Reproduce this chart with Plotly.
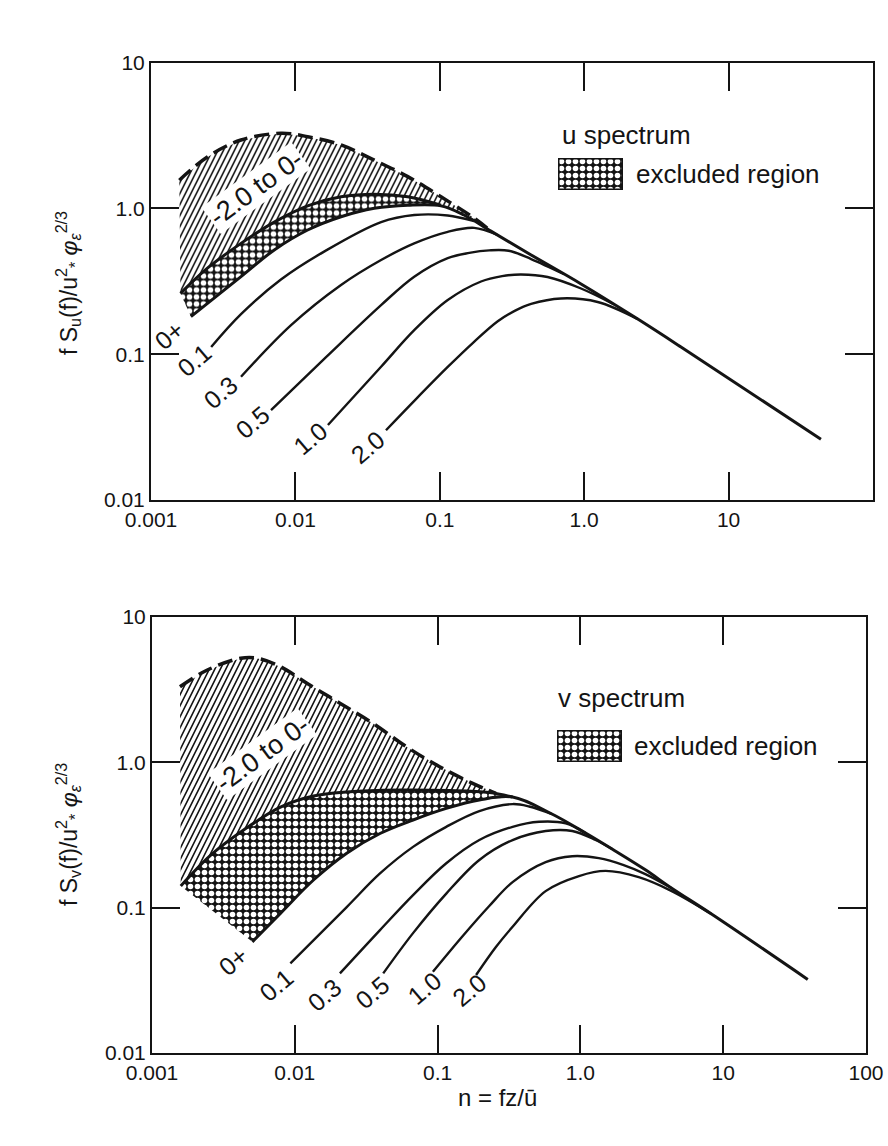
import numpy as np
import plotly.graph_objects as go

# ---------------- data: u spectrum (top panel) ----------------
# n = f z / U ; value = f S(f) / (u*^2 phi_eps^(2/3))
u_dash_n = [0.00157, 0.00247, 0.0042, 0.00794, 0.01216, 0.0207, 0.0352, 0.0600, 0.1019, 0.173, 0.226]
u_dash_v = [1.56, 2.26, 2.94, 3.27, 3.10, 2.72, 2.14, 1.65, 1.20, 0.857, 0.698]

u_lim_n = [0.00160, 0.00247, 0.0042, 0.00714, 0.01216, 0.0207, 0.0352, 0.0600, 0.1019]   # 0- limit
u_lim_v = [0.261, 0.390, 0.575, 0.805, 1.04, 1.20, 1.25, 1.20, 1.05]

u_0p_n = [0.00189, 0.0042, 0.00714, 0.01216, 0.0207, 0.0352, 0.0600, 0.1019, 0.147, 0.226, 0.429, 0.951, 2.35, 4.68, 43.6]
u_0p_v = [0.181, 0.340, 0.518, 0.710, 0.875, 1.00, 1.05, 1.04, 0.900, 0.698, 0.479, 0.303, 0.174, 0.112, 0.0261]

u_01_n = [0.00261, 0.0042, 0.00794, 0.0158, 0.0392, 0.0665, 0.1135, 0.173]
u_01_v = [0.112, 0.188, 0.325, 0.505, 0.805, 0.900, 0.893, 0.817]
u_03_n = [0.0042, 0.00933, 0.0207, 0.0392, 0.0665, 0.1135, 0.173, 0.249]
u_03_v = [0.070, 0.158, 0.298, 0.442, 0.575, 0.690, 0.735, 0.659]
u_05_n = [0.00678, 0.0163, 0.0392, 0.0665, 0.1135, 0.160, 0.220, 0.300, 0.429, 0.728]
u_05_v = [0.0414, 0.0955, 0.217, 0.340, 0.456, 0.495, 0.515, 0.512, 0.449, 0.353]
u_10_n = [0.0168, 0.0392, 0.0665, 0.1135, 0.193, 0.270, 0.365, 0.558, 0.951, 1.61]
u_10_v = [0.0327, 0.082, 0.146, 0.235, 0.315, 0.343, 0.352, 0.338, 0.282, 0.219]
u_20_n = [0.0424, 0.0684, 0.1135, 0.172, 0.252, 0.330, 0.429, 0.690, 1.24, 2.35]
u_20_v = [0.0301, 0.0492, 0.0817, 0.121, 0.168, 0.198, 0.221, 0.241, 0.228, 0.174]

# ---------------- data: v spectrum (bottom panel) ----------------
v_dash_n = [0.00157, 0.00244, 0.00417, 0.00546, 0.00793, 0.01216, 0.0207, 0.0354, 0.0605, 0.1033, 0.176, 0.256]
v_dash_v = [3.31, 4.32, 5.20, 5.20, 4.55, 3.50, 2.55, 1.85, 1.28, 0.933, 0.717, 0.612]

v_lim_n = [0.00159, 0.00258, 0.00438, 0.00793, 0.01352, 0.0231, 0.0543, 0.121, 0.230, 0.335]
v_lim_v = [0.141, 0.230, 0.342, 0.492, 0.586, 0.625, 0.645, 0.640, 0.620, 0.577]

v_0p_n = [0.00504, 0.00793, 0.01352, 0.0231, 0.0395, 0.0673, 0.115, 0.196, 0.335, 0.632, 1.087, 1.667, 2.85, 4.36, 8.28, 39.1]
v_0p_v = [0.0582, 0.0914, 0.155, 0.237, 0.324, 0.401, 0.482, 0.551, 0.577, 0.441, 0.326, 0.253, 0.182, 0.136, 0.0904, 0.0321]

v_01_n = [0.00931, 0.0231, 0.0395, 0.0673, 0.115, 0.196, 0.335, 0.438, 0.632]
v_01_v = [0.0414, 0.101, 0.172, 0.262, 0.360, 0.462, 0.516, 0.497, 0.441]
v_03_n = [0.0207, 0.0395, 0.0673, 0.115, 0.196, 0.335, 0.514, 0.789, 1.087]
v_03_v = [0.0353, 0.0701, 0.122, 0.202, 0.292, 0.360, 0.390, 0.380, 0.326]
v_05_n = [0.0416, 0.0673, 0.115, 0.196, 0.335, 0.571, 0.877, 1.276, 1.667]
v_05_v = [0.0353, 0.0668, 0.125, 0.213, 0.292, 0.337, 0.337, 0.292, 0.253]
v_10_n = [0.0927, 0.150, 0.230, 0.335, 0.571, 0.877, 1.346, 2.01, 2.85, 4.36]
v_10_v = [0.0362, 0.0638, 0.1026, 0.150, 0.206, 0.226, 0.219, 0.196, 0.170, 0.136]
v_20_n = [0.186, 0.256, 0.335, 0.571, 0.977, 1.50, 2.56, 4.36, 8.28]
v_20_v = [0.0344, 0.0536, 0.0739, 0.130, 0.165, 0.179, 0.162, 0.130, 0.0904]

curve_labels = ["0+", "0.1", "0.3", "0.5", "1.0", "2.0"]
u_label_n = [0.00134, 0.00200, 0.00305, 0.00506, 0.0128, 0.0317]
u_label_v = [0.135, 0.091, 0.055, 0.0344, 0.0265, 0.0232]
v_label_n = [0.00372, 0.00743, 0.0161, 0.0352, 0.0811, 0.167]
v_label_v = [0.0429, 0.0293, 0.0251, 0.0262, 0.0280, 0.0271]
band_label = "-2.0 to 0-"
u_band_n, u_band_v = 0.00533, 1.38
v_band_n, v_band_v = 0.0059, 1.15

x_tickvals = [0.001, 0.01, 0.1, 1, 10, 100]
x_ticktext = ["0.001", "0.01", "0.1", "1.0", "10", "100"]
y_tickvals = [0.01, 0.1, 1, 10]
y_ticktext = ["0.01", "0.1", "1.0", "10"]

# ---------------- figure ----------------
W, H = 888, 1146
INK = "#141414"
FONT = "Liberation Sans, Arial, Helvetica, sans-serif"


def dx(a, b):
    return [a / W, b / W]


def dy(top, bottom):
    return [1 - bottom / H, 1 - top / H]


fig = go.Figure()

# steep hatch (custom tile), falls back to the built-in "/" pattern
STEEP = "M0,11 L5.5,0 L7.3,0 L1.8,11 Z M5.5,11 L11,0 L12.8,0 L7.3,11 Z M0,0 L1.8,0 L0,3.6 Z"
HATCH = dict(path=STEEP, fgcolor=INK, bgcolor="white", size=11, solidity=0.1, fillmode="replace")
HATCH_FALLBACK = dict(shape="/", fgcolor=INK, bgcolor="white", size=6, solidity=0.3)
DOTS = dict(shape=".", fgcolor="white", bgcolor=INK, size=7, solidity=0.5, fillmode="replace")


def hatch_poly(dash_n, dash_v, lim_n, lim_v, zp_n, zp_v):
    # region between dashed limit (top) and lower boundary (0- limit, then 0+ envelope)
    low = list(zip(lim_n, lim_v)) + [(n, v) for n, v in zip(zp_n, zp_v) if lim_n[-1] < n <= dash_n[-1]]
    low = [p for p in low if p[0] <= dash_n[-1]]
    xs = list(dash_n) + [p[0] for p in reversed(low)] + [dash_n[0]]
    ys = list(dash_v) + [p[1] for p in reversed(low)] + [dash_v[0]]
    return xs, ys


def dots_poly(lim_n, lim_v, zp_n, zp_v):
    pairs = [(n, v) for n, v in zip(zp_n, zp_v) if n <= lim_n[-1]]
    xs = list(lim_n) + [p[0] for p in reversed(pairs)] + [lim_n[0]]
    ys = list(lim_v) + [p[1] for p in reversed(pairs)] + [lim_v[0]]
    return xs, ys


def line(xa, ya, n, v, width, dash=None):
    fig.add_trace(go.Scatter(x=n, y=v, xaxis=xa, yaxis=ya, mode="lines",
                             line=dict(color=INK, width=width, dash=dash, shape="spline", smoothing=1.0),
                             hoverinfo="skip", showlegend=False))


def hatch_trace(hx, hy, xa, ya):
    kw = dict(x=hx, y=hy, xaxis=xa, yaxis=ya, mode="lines", line=dict(width=0, color="white"),
              fill="toself", fillcolor="white", hoverinfo="skip", showlegend=False)
    try:
        return go.Scatter(fillpattern=HATCH, **kw)
    except Exception:
        return go.Scatter(fillpattern=HATCH_FALLBACK, **kw)


def add_panel(xa, ya, dash_n, dash_v, lim_n, lim_v, zp_n, zp_v, curves):
    hx, hy = hatch_poly(dash_n, dash_v, lim_n, lim_v, zp_n, zp_v)
    fig.add_trace(hatch_trace(hx, hy, xa, ya))
    ox, oy = dots_poly(lim_n, lim_v, zp_n, zp_v)
    fig.add_trace(go.Scatter(x=ox, y=oy, xaxis=xa, yaxis=ya, mode="lines",
                             line=dict(width=0, color=INK), fill="toself", fillcolor=INK,
                             fillpattern=DOTS, hoverinfo="skip", showlegend=False))
    line(xa, ya, dash_n, dash_v, 3.5, "15px,7px")      # dashed upper limit (-2.0)
    line(xa, ya, lim_n, lim_v, 3)                        # 0- limit
    line(xa, ya, zp_n, zp_v, 3)                          # 0+ curve + common envelope
    for cn, cv in curves:
        line(xa, ya, cn, cv, 2.4)


add_panel("x", "y", u_dash_n, u_dash_v, u_lim_n, u_lim_v, u_0p_n, u_0p_v,
          [(u_01_n, u_01_v), (u_03_n, u_03_v), (u_05_n, u_05_v), (u_10_n, u_10_v), (u_20_n, u_20_v)])
add_panel("x2", "y2", v_dash_n, v_dash_v, v_lim_n, v_lim_v, v_0p_n, v_0p_v,
          [(v_01_n, v_01_v), (v_03_n, v_03_v), (v_05_n, v_05_v), (v_10_n, v_10_v), (v_20_n, v_20_v)])

# legend swatches (on their own unit axes)
for xa, ya in (("x3", "y3"), ("x4", "y4")):
    fig.add_trace(go.Scatter(x=[0, 1, 1, 0, 0], y=[0, 0, 1, 1, 0], xaxis=xa, yaxis=ya, mode="lines",
                             line=dict(color=INK, width=3), fill="toself", fillcolor=INK,
                             fillpattern=DOTS, hoverinfo="skip", showlegend=False))

axis_common = dict(type="log", showline=True, linewidth=2, linecolor=INK, mirror="ticks",
                   ticks="inside", ticklen=28, tickwidth=2, tickcolor=INK, showgrid=False,
                   zeroline=False, automargin=False,
                   tickfont=dict(family=FONT, size=21, color=INK))
xax = dict(axis_common, range=[-3, 2], tickmode="array", tickvals=x_tickvals, ticktext=x_ticktext)
yax = dict(axis_common, range=[-2, 1], tickmode="array", tickvals=y_tickvals, ticktext=y_ticktext)
hidden = dict(visible=False, range=[0, 1], fixedrange=True)

fig.update_layout(
    width=W, height=H, margin=dict(l=0, r=0, t=0, b=0),
    paper_bgcolor="white", plot_bgcolor="rgba(0,0,0,0)", template="none",
    xaxis=dict(xax, domain=dx(151, 873), anchor="y"),
    yaxis=dict(yax, domain=dy(62.5, 500), anchor="x"),
    xaxis2=dict(xax, domain=dx(152, 866), anchor="y2"),
    yaxis2=dict(yax, domain=dy(617, 1053), anchor="x2"),
    xaxis3=dict(hidden, domain=dx(558, 623), anchor="y3"),
    yaxis3=dict(hidden, domain=dy(158, 190), anchor="x3"),
    xaxis4=dict(hidden, domain=dx(557, 622), anchor="y4"),
    yaxis4=dict(hidden, domain=dy(730, 762), anchor="x4"),
)

ann = []
lab_font = dict(family=FONT, size=25, color=INK)
for txt, n, v in zip(curve_labels, u_label_n, u_label_v):
    ann.append(dict(x=np.log10(n), y=np.log10(v), xref="x", yref="y", text=txt, showarrow=False,
                    textangle=-40, font=lab_font, xanchor="center", yanchor="middle"))
for txt, n, v in zip(curve_labels, v_label_n, v_label_v):
    ann.append(dict(x=np.log10(n), y=np.log10(v), xref="x2", yref="y2", text=txt, showarrow=False,
                    textangle=-40, font=lab_font, xanchor="center", yanchor="middle"))
band_font = dict(family=FONT, size=27, color=INK)
ann.append(dict(x=np.log10(u_band_n), y=np.log10(u_band_v), xref="x", yref="y", text=band_label,
                showarrow=False, textangle=-36, font=band_font, bgcolor="white",
                xanchor="center", yanchor="middle"))
ann.append(dict(x=np.log10(v_band_n), y=np.log10(v_band_v), xref="x2", yref="y2", text=band_label,
                showarrow=False, textangle=-36, font=band_font, bgcolor="white",
                xanchor="center", yanchor="middle"))

big = dict(family=FONT, size=26, color=INK)
ylab_font = dict(family=FONT, size=23, color=INK)
ann += [
    dict(x=560 / W, y=1 - 135 / H, xref="paper", yref="paper", xanchor="left", yanchor="middle",
         text="u spectrum", showarrow=False, font=big),
    dict(x=634 / W, y=1 - 174 / H, xref="paper", yref="paper", xanchor="left", yanchor="middle",
         text="excluded region", showarrow=False, font=big),
    dict(x=556 / W, y=1 - 698 / H, xref="paper", yref="paper", xanchor="left", yanchor="middle",
         text="v spectrum", showarrow=False, font=big),
    dict(x=632 / W, y=1 - 746 / H, xref="paper", yref="paper", xanchor="left", yanchor="middle",
         text="excluded region", showarrow=False, font=big),
    dict(x=68 / W, y=1 - 283 / H, xref="paper", yref="paper", textangle=-90, showarrow=False,
         xanchor="center", yanchor="middle",
         text="f S<sub>u</sub>(f)/u<sup>2</sup><sub>*</sub> <i>φ</i><sub><i>ε</i></sub><sup>2/3</sup>",
         font=ylab_font),
    dict(x=68 / W, y=1 - 835 / H, xref="paper", yref="paper", textangle=-90, showarrow=False,
         xanchor="center", yanchor="middle",
         text="f S<sub>v</sub>(f)/u<sup>2</sup><sub>*</sub> <i>φ</i><sub><i>ε</i></sub><sup>2/3</sup>",
         font=ylab_font),
    dict(x=497 / W, y=1 - 1097 / H, xref="paper", yref="paper", showarrow=False,
         xanchor="center", yanchor="middle",
         text="n = fz/ū", font=dict(family=FONT, size=24, color=INK)),
]
fig.update_layout(annotations=ann)

fig.write_html("out.html")
